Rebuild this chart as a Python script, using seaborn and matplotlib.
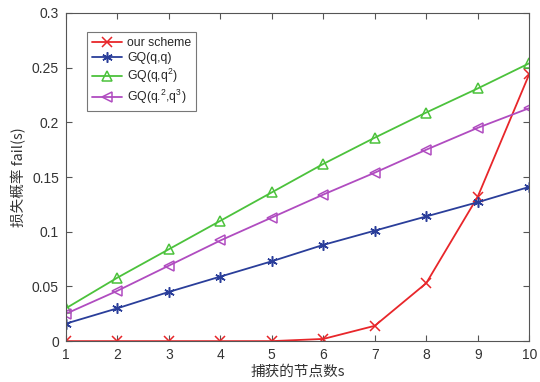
import matplotlib
matplotlib.use("Agg")
import matplotlib.pyplot as plt
import seaborn as sns
import pandas as pd

s = [1, 2, 3, 4, 5, 6, 7, 8, 9, 10]
our_scheme = [0, 0, 0, 0, 0, 0.002, 0.014, 0.053, 0.132, 0.244]
gq_q_q = [0.016, 0.030, 0.045, 0.059, 0.073, 0.088, 0.101, 0.114, 0.127, 0.141]
gq_q_q2 = [0.030, 0.058, 0.084, 0.110, 0.136, 0.162, 0.186, 0.209, 0.231, 0.254]
gq_q2_q3 = [0.025, 0.046, 0.069, 0.092, 0.113, 0.134, 0.154, 0.175, 0.195, 0.213]

labels = ["our scheme", "GQ(q,q)", r"GQ(q,q$^2$)", r"GQ(q.$^2$,q$^3$)"]
colors = ["#e8262a", "#2a3e9a", "#4cc23c", "#b04cc0"]
markers = ["x", (6, 2, 0), "^", "<"]

sns.set_style("white")
plt.rcParams["font.family"] = ["Liberation Sans", "Noto Sans CJK SC", "DejaVu Sans"]
plt.rcParams["mathtext.fontset"] = "custom"
plt.rcParams["mathtext.rm"] = "Liberation Sans"

fig = plt.figure(figsize=(5.4, 3.82), dpi=100)
ax = fig.add_axes([0.122, 0.107, 0.858, 0.859])

for vals, lab, c, m in zip([our_scheme, gq_q_q, gq_q_q2, gq_q2_q3], labels, colors, markers):
	df = pd.DataFrame({"s": s, "fail": vals})
	sns.lineplot(data=df, x="s", y="fail", ax=ax, color=c, marker=m, mec=c, mfc="none",
		markersize=7.5, mew=1.1, linewidth=1.3, label=lab)

ax.set_xlim(1, 10)
ax.set_ylim(0, 0.3)
ax.set_xticks(s)
ax.set_yticks([0, 0.05, 0.1, 0.15, 0.2, 0.25, 0.3])
ax.set_yticklabels(["0", "0.05", "0.1", "0.15", "0.2", "0.25", "0.3"])
ax.tick_params(direction="in", top=True, right=True, bottom=True, left=True,
	length=4, width=0.8, colors="#555555", labelsize=10, labelcolor="#333333", pad=5)
for sp in ax.spines.values():
	sp.set_color("#555555")
	sp.set_linewidth(0.8)

ax.set_xlabel("捕获的节点数s", fontsize=10.5, color="#333333",
	family=["Noto Sans CJK SC", "Liberation Sans"], labelpad=2)
ax.set_ylabel("损失概率 fail(s)", fontsize=10.5, color="#333333",
	family=["Noto Sans CJK SC", "Liberation Sans"], labelpad=4)

leg = ax.legend(loc="upper left", bbox_to_anchor=(0.045, 0.942), fontsize=8.8,
	frameon=True, fancybox=False, edgecolor="#555555", handlelength=2.5,
	borderpad=0.4, labelspacing=0.25, handletextpad=0.4, borderaxespad=0)
leg.get_frame().set_linewidth(0.8)

fig.savefig("out.png", dpi=100)
